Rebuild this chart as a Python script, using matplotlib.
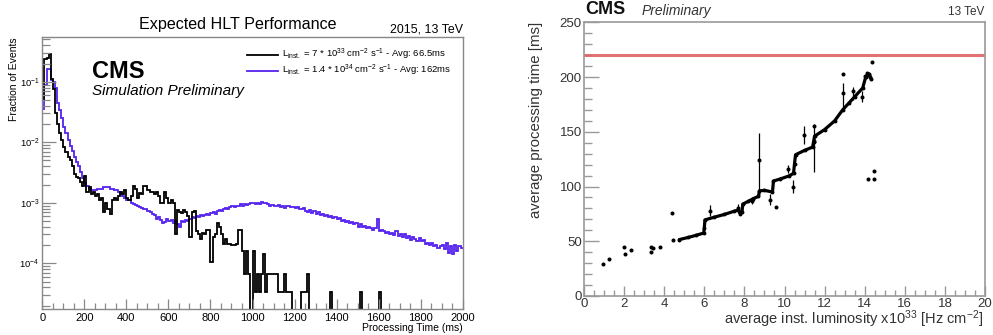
import numpy as np
import matplotlib
matplotlib.use("Agg")
import matplotlib.pyplot as plt
from matplotlib.lines import Line2D
from matplotlib.ticker import FixedLocator, LogLocator, NullFormatter, MultipleLocator

plt.rcParams['font.family'] = ['Liberation Sans', 'DejaVu Sans']
plt.rcParams['mathtext.fontset'] = 'custom'
plt.rcParams['mathtext.rm'] = 'Liberation Sans'
plt.rcParams['mathtext.it'] = 'Liberation Sans:italic'
plt.rcParams['mathtext.bf'] = 'Liberation Sans:bold'

# --- left: HLT processing time distributions, 10 ms bins from 0 to 2000 ms ---
bin_edges = np.arange(0, 2001, 10)

frac_low_lumi = [
    0.05, 0.24, 0.25, 0.29, 0.11, 0.075, 0.030, 0.020, 0.014, 0.011,
    0.0085, 0.0070, 0.0058, 0.0050, 0.0040, 0.0030, 0.0027, 0.0026, 0.0022, 0.0019,
    0.0028, 0.0015, 0.0018, 0.0014, 0.0015, 0.0013, 0.0014, 0.0011, 0.0012, 0.0007,
    0.0010, 0.0008, 0.00065, 0.0011, 0.0012, 0.0011, 0.0013, 0.0015, 0.0014, 0.0016,
    0.0012, 0.0011, 0.0013, 0.0019, 0.0017, 0.0012, 0.00145, 0.0014, 0.0019, 0.0019,
    0.0016, 0.0015, 0.0015, 0.0014, 0.0015, 0.0013, 0.0010, 0.00098, 0.0015, 0.0012,
    0.0010, 0.0011, 0.00098, 0.00031, 0.00077, 0.00070, 0.00067, 0.00075, 0.00070, 0.00060,
    0.00027, 0.00070, 0.00072, 0.00034, 0.00030, 0.00025, 0.00032, 0.00030, 0.00036, 0.00036,
    0.000105, 0.00027, 0.00030, 0.00047, 0.00040, 0.00030, 0.00021, 0.00025, 0.00021, 0.00021,
    0.00020, 0.00020, 0.00021, 0.00036, 0.00036, 0.00016, 0.000067, 0.00016, 0.000067, 0.0,
    0.00016, 0.000033, 0.000067, 0.000033, 0.000067, 0.00014, 0.000033, 0.000067, 0.000067, 0.000067,
    0.000067, 0.000067, 0.000033, 0.000033, 0.000033, 0.000067, 0.000033, 0.000033, 0.000033, 0.0,
    0.0, 0.0, 0.0, 0.000033, 0.000033, 0.000033, 0.000067, 0.0, 0.0, 0.0,
    0.0, 0.0, 0.0, 0.0, 0.0, 0.0, 0.0, 0.000033, 0.0, 0.0,
    0.0, 0.0, 0.0, 0.0, 0.0, 0.0, 0.0, 0.0, 0.0, 0.0,
    0.0, 0.000033, 0.0, 0.0, 0.0, 0.0, 0.0, 0.0, 0.0, 0.0,
    0.000033, 0.0, 0.0, 0.0, 0.0, 0.0, 0.0, 0.0, 0.0, 0.0,
    0.0, 0.0, 0.0, 0.0, 0.0, 0.0, 0.0, 0.0, 0.0, 0.0,
    0.0, 0.0, 0.0, 0.0, 0.0, 0.0, 0.0, 0.0, 0.0, 0.0,
    0.0, 0.0, 0.0, 0.0, 0.0, 0.0, 0.0, 0.0, 0.0, 0.0,
]

frac_high_lumi = [
    0.035, 0.09, 0.165, 0.165, 0.105, 0.100, 0.078, 0.045, 0.034, 0.025,
    0.018, 0.014, 0.011, 0.0088, 0.0072, 0.0058, 0.0048, 0.0040, 0.0032, 0.0026,
    0.0021, 0.0019, 0.0017, 0.0016, 0.0016, 0.0016, 0.0017, 0.0017, 0.0017, 0.0018,
    0.0018, 0.0018, 0.0017, 0.0017, 0.0016, 0.0016, 0.0015, 0.0014, 0.0013, 0.0012,
    0.0011, 0.0011, 0.0010, 0.00095, 0.00092, 0.00088, 0.00085, 0.00082, 0.00078, 0.00080,
    0.00072, 0.00070, 0.00066, 0.00062, 0.00055, 0.00058, 0.00052, 0.00046, 0.00048, 0.00055,
    0.00050, 0.00052, 0.00046, 0.00050, 0.00044, 0.00040, 0.00050, 0.00048, 0.00052, 0.00050,
    0.00055, 0.00058, 0.00056, 0.00060, 0.00058, 0.00062, 0.00060, 0.00064, 0.00066, 0.00062,
    0.00068, 0.00070, 0.00066, 0.00072, 0.00075, 0.00072, 0.00080, 0.00082, 0.00078, 0.00085,
    0.00088, 0.00084, 0.00090, 0.00088, 0.00094, 0.00090, 0.00096, 0.00092, 0.00096, 0.00100,
    0.00098, 0.00094, 0.00100, 0.00096, 0.00102, 0.00100, 0.00098, 0.00094, 0.00090, 0.00092,
    0.00090, 0.00088, 0.00092, 0.00086, 0.00090, 0.00082, 0.00088, 0.00090, 0.00084, 0.00086,
    0.00082, 0.00086, 0.00080, 0.00078, 0.00082, 0.00074, 0.00070, 0.00076, 0.00068, 0.00072,
    0.00066, 0.00070, 0.00064, 0.00066, 0.00060, 0.00064, 0.00058, 0.00060, 0.00056, 0.00058,
    0.00054, 0.00056, 0.00050, 0.00052, 0.00048, 0.00050, 0.00046, 0.00048, 0.00044, 0.00046,
    0.00040, 0.00044, 0.00040, 0.00042, 0.00038, 0.00040, 0.00038, 0.00036, 0.00038, 0.00054,
    0.00034, 0.00036, 0.00034, 0.00032, 0.00033, 0.00030, 0.00032, 0.00029, 0.00034, 0.00028,
    0.00030, 0.00027, 0.00030, 0.00026, 0.00028, 0.00024, 0.00027, 0.00025, 0.00023, 0.00026,
    0.00023, 0.00024, 0.00021, 0.00022, 0.00020, 0.00022, 0.00019, 0.00020, 0.00018, 0.00019,
    0.00020, 0.00017, 0.00022, 0.00015, 0.00019, 0.00014, 0.00020, 0.00016, 0.00019, 0.00018,
]

legend_labels = [
    r"L$_{\mathrm{inst.}}$ = 7 * 10$^{33}$ cm$^{-2}$ s$^{-1}$ - Avg: 66.5ms",
    r"L$_{\mathrm{inst.}}$ = 1.4 * 10$^{34}$ cm$^{-2}$ s$^{-1}$ - Avg: 162ms",
]

# --- right: average processing time vs instantaneous luminosity ---
# dense band of lumisections (drawn as a thick trace)
band_lumi = [4.75, 5.2, 5.6, 5.97, 6.0, 6.03, 6.5, 7.0, 7.5, 7.7, 7.8, 7.88, 7.92, 8.2,
             8.45, 8.7, 8.75, 9.0, 9.4, 9.45, 9.8, 10.2, 10.45, 10.5, 10.55, 11.0, 11.4,
             11.45, 11.5, 12.0, 12.5, 12.9, 13.2, 13.5, 13.9, 14.05, 14.2]
band_time = [51.5, 53.5, 55.5, 57.5, 62, 69.5, 72, 74.5, 77.5, 78.5, 75, 77, 84, 86.5,
             89, 91, 96, 96.5, 95, 105, 107, 109.5, 112, 121, 129, 133, 136,
             141, 146, 152, 160, 170, 176, 182, 190, 200, 203]

# individual points with their uncertainties
pt_lumi = [0.93, 1.25, 1.99, 2.04, 2.33, 3.32, 3.33, 3.42, 3.79, 4.37, 4.45,
           6.3, 7.7, 8.4, 8.75, 9.3, 9.58, 10.15, 10.4, 10.98, 11.47, 11.45,
           12.93, 12.93, 13.4, 13.85, 14.0, 14.1, 14.2, 14.3, 14.35, 14.26,
           14.15, 14.45, 14.45]
pt_time = [29, 33.5, 45, 38.5, 42, 44.5, 40, 44, 45, 75.5, 51,
           78, 80, 87, 124, 88, 81.5, 116, 100, 147, 142, 155,
           185, 203, 187, 182, 201, 204, 202, 198, 214, 200,
           106.5, 106.5, 114.5]
pt_err_lo = [0, 0, 0, 0, 0, 0, 0, 0, 0, 0, 0,
             5, 4, 3, 33, 5, 0, 4, 6, 8, 29, 0,
             12, 0, 8, 5, 0, 0, 0, 0, 0, 0,
             0, 0, 0]
pt_err_hi = [0, 0, 0, 0, 0, 0, 0, 0, 0, 0, 0,
             5, 4, 3, 25, 5, 0, 4, 6, 8, 15, 0,
             10, 0, 4, 5, 0, 0, 0, 0, 0, 0,
             0, 0, 0]
time_budget = 220

W, H = 993, 335
fig = plt.figure(figsize=(W / 100, H / 100), dpi=100)


def fx(px):
    return px / W


def fy(py):
    return 1 - py / H


# left panel
ax1 = fig.add_axes([fx(42.3), fy(309), fx(462.7) - fx(42.3), fy(36.7) - fy(309)])
ax1.set_yscale('log')
low = np.array(frac_low_lumi)
high = np.array(frac_high_lumi)
ax1.stairs(np.where(high > 0, high, 1e-9), bin_edges, baseline=None, color='#5522ee', lw=1.3)
ax1.stairs(np.where(low > 0, low, 1e-9), bin_edges, baseline=None, color='black', lw=1.3)
ax1.set_xlim(0, 2000)
ax1.set_ylim(1.76e-5, 0.555)

for s in ax1.spines.values():
    s.set_color('#888888')
    s.set_linewidth(1.0)
ax1.xaxis.set_major_locator(MultipleLocator(200))
ax1.xaxis.set_minor_locator(MultipleLocator(50))
ax1.yaxis.set_major_locator(FixedLocator([1e-4, 1e-3, 1e-2, 1e-1]))
ax1.yaxis.set_minor_locator(LogLocator(base=10, subs=np.arange(2, 10)))
ax1.yaxis.set_minor_formatter(NullFormatter())
ax1.tick_params(axis='x', which='major', direction='in', length=7, width=0.9,
                color='#888888', labelsize=8, pad=3)
ax1.tick_params(axis='x', which='minor', direction='in', length=4, width=0.9, color='#888888')
ax1.tick_params(axis='y', which='major', direction='in', length=10, width=0.9,
                color='#888888', labelsize=6.8, pad=2)
ax1.tick_params(axis='y', which='minor', direction='in', length=6, width=0.9, color='#888888')

fig.text(fx(237.5), fy(24), "Expected HLT Performance", ha='center', va='center', fontsize=11.6)
fig.text(fx(463), fy(30), "2015, 13 TeV", ha='right', va='center', fontsize=8.9)
fig.text(fx(92), fy(72), "CMS", ha='left', va='center', fontsize=17, fontweight='bold')
fig.text(fx(92), fy(91), "Simulation Preliminary", ha='left', va='center', fontsize=11,
         style='italic')
fig.text(fx(14), fy(37), "Fraction of Events", rotation=90, ha='center', va='top', fontsize=7.5)
fig.text(fx(463), fy(328), "Processing Time (ms)", ha='right', va='center', fontsize=7.5)

for ypx, col, lab in [(54.7, 'black', legend_labels[0]), (70.7, '#5522ee', legend_labels[1])]:
    fig.add_artist(Line2D([fx(246.7), fx(278.3)], [fy(ypx), fy(ypx)], color=col, lw=1.3))
    fig.text(fx(282), fy(ypx), lab, ha='left', va='center', fontsize=6.8)

# right panel
ax2 = fig.add_axes([fx(584), fy(296), fx(985) - fx(584), fy(22.3) - fy(296)])
ax2.axhline(time_budget, color='#e06464', lw=2.2, alpha=0.9)
ax2.plot(band_lumi, band_time, color='black', lw=2.3, solid_capstyle='round')
ax2.plot(band_lumi, band_time, 'o', color='black', ms=1.8)
ax2.errorbar(pt_lumi, pt_time, yerr=[pt_err_lo, pt_err_hi], fmt='o', color='black',
             ms=1.9, elinewidth=0.9, capsize=0)
ax2.set_xlim(0, 20)
ax2.set_ylim(0, 250)

for s in ax2.spines.values():
    s.set_color('#999999')
    s.set_linewidth(1.2)
ax2.xaxis.set_major_locator(MultipleLocator(2))
ax2.xaxis.set_minor_locator(MultipleLocator(0.5))
ax2.yaxis.set_major_locator(MultipleLocator(50))
ax2.yaxis.set_minor_locator(MultipleLocator(10))
ax2.tick_params(axis='x', which='major', direction='in', length=7, width=1,
                color='#999999', labelsize=9.5, labelcolor='#333333', pad=1.5)
ax2.tick_params(axis='x', which='minor', direction='in', length=4, width=1, color='#999999')
ax2.tick_params(axis='y', which='major', direction='in', length=11, width=1,
                color='#999999', labelsize=9.5, labelcolor='#333333', pad=1.5)
ax2.tick_params(axis='y', which='minor', direction='in', length=6, width=1, color='#999999')

fig.text(fx(585), fy(10), "CMS", ha='left', va='center', fontsize=13, fontweight='bold',
         color='#111111')
fig.text(fx(642), fy(11), "Preliminary", ha='left', va='center', fontsize=10, style='italic',
         color='#333333')
fig.text(fx(984), fy(12), "13 TeV", ha='right', va='center', fontsize=8.5, color='#333333')
fig.text(fx(536), fy(22), "average processing time [ms]", rotation=90, ha='center', va='top',
         fontsize=10.8, color='#333333')
fig.text(fx(983), fy(319), r"average inst. luminosity x10$^{33}$ [Hz cm$^{-2}$]",
         ha='right', va='center', fontsize=10.5, color='#333333')

fig.savefig("out.png", dpi=100)
